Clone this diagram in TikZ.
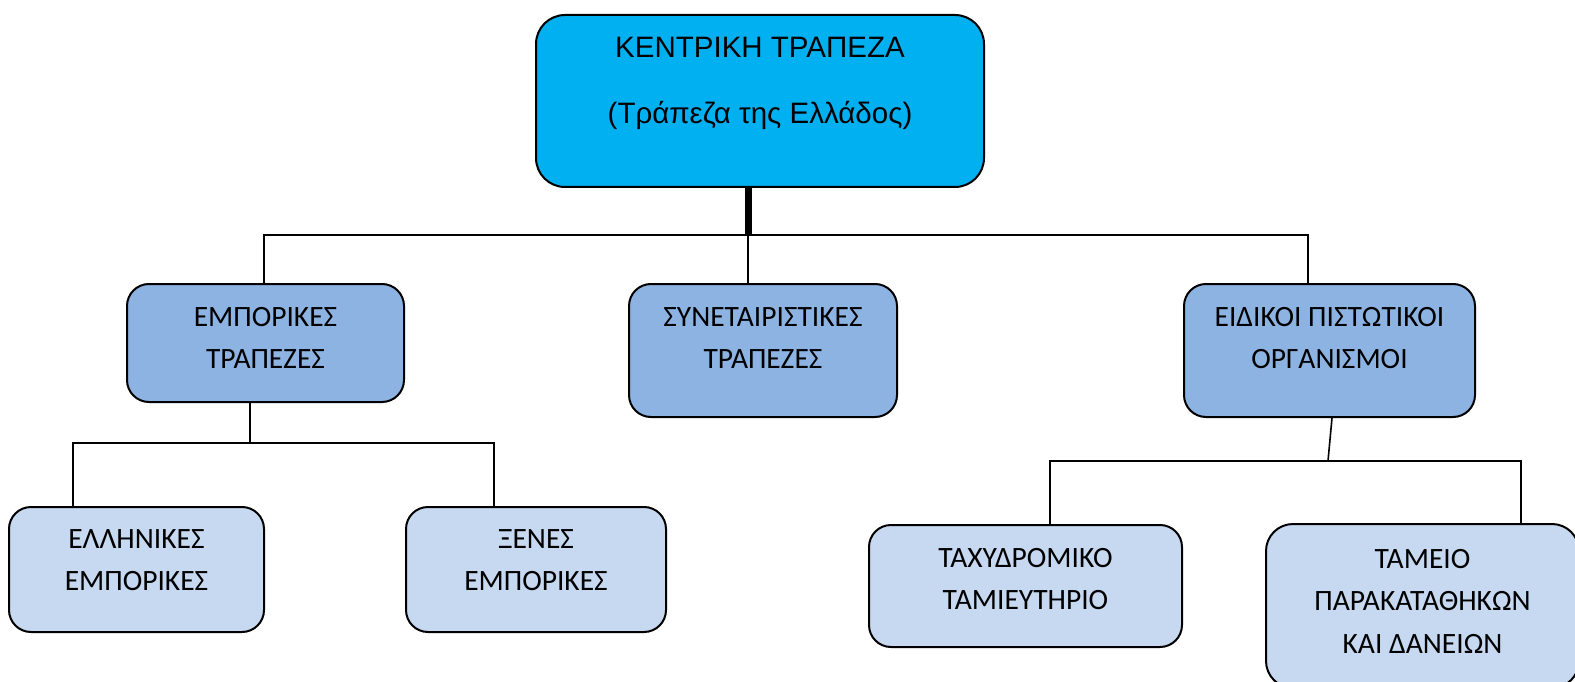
\documentclass[tikz,border=0pt]{standalone}
\usepackage{fontspec}
\setmainfont{Carlito}
\newfontfamily\arialfont{Liberation Sans}
\usetikzlibrary{positioning,calc}
\definecolor{cbblue}{HTML}{00B0F0}
\definecolor{midblue}{HTML}{8DB3E2}
\definecolor{lowblue}{HTML}{C6D9F1}
\tikzset{
  box/.style={draw, line width=2pt, rounded corners=22pt, inner sep=0pt},
  cbbox/.style={box, fill=cbblue, rounded corners=29pt},
  midbox/.style={box, fill=midblue},
  lowbox/.style={box, fill=lowblue},
  boxtext/.style={anchor=north, inner sep=0pt, align=center, font=\fontsize{29.5}{42.5}\selectfont},
  cbtext/.style={boxtext, font=\arialfont\fontsize{29.5}{66}\selectfont},
  link/.style={line width=1.6pt},
  trunk/.style={line width=7pt}
}
\begin{document}
\begin{tikzpicture}[x=1pt,y=-1pt]
\useasboundingbox (0,0) rectangle (1575,682);
% boxes
\node[cbbox, minimum width=448, minimum height=172] (cb) at (760,101) {};
\node[midbox, minimum width=277, minimum height=118] (emp) at (265.5,343) {};
\node[midbox, minimum width=268, minimum height=133] (syn) at (763,350.5) {};
\node[midbox, minimum width=291, minimum height=133] (eid) at (1329.5,350.5) {};
\node[lowbox, minimum width=255, minimum height=125] (ell) at (136.5,569.5) {};
\node[lowbox, minimum width=260, minimum height=125] (xen) at (536,569.5) {};
\node[lowbox, minimum width=313, minimum height=122] (tax) at (1025.5,586) {};
\node[lowbox, minimum width=313, minimum height=164, rounded corners=27pt] (tam) at (1422.5,606) {};
% texts
\node[cbtext, below=23pt of cb.north] (cb-t) {ΚΕΝΤΡΙΚΗ ΤΡΑΠΕΖΑ\\(Τράπεζα της Ελλάδος)};
\node[boxtext, below=24pt of emp.north] (emp-t) {ΕΜΠΟΡΙΚΕΣ\\ΤΡΑΠΕΖΕΣ};
\node[boxtext, below=24pt of syn.north] (syn-t) {ΣΥΝΕΤΑΙΡΙΣΤΙΚΕΣ\\ΤΡΑΠΕΖΕΣ};
\node[boxtext, below=24pt of eid.north] (eid-t) {ΕΙΔΙΚΟΙ ΠΙΣΤΩΤΙΚΟΙ\\ΟΡΓΑΝΙΣΜΟΙ};
\node[boxtext, below=23pt of ell.north] (ell-t) {ΕΛΛΗΝΙΚΕΣ\\ΕΜΠΟΡΙΚΕΣ};
\node[boxtext, below=23pt of xen.north] (xen-t) {ΞΕΝΕΣ\\ΕΜΠΟΡΙΚΕΣ};
\node[boxtext, below=24pt of tax.north] (tax-t) {ΤΑΧΥΔΡΟΜΙΚΟ\\ΤΑΜΙΕΥΤΗΡΙΟ};
\node[boxtext, below=26pt of tam.north] (tam-t) {ΤΑΜΕΙΟ\\ΠΑΡΑΚΑΤΑΘΗΚΩΝ\\ΚΑΙ ΔΑΝΕΙΩΝ};
% connectors
\coordinate (hub) at (748,235);
\coordinate (bl) at (264,235);
\coordinate (br) at (1308,235);
\draw[trunk] (cb.south -| hub) -- (hub);
\draw[link] (emp.north -| bl) |- (br) -- (eid.north -| br);
\draw[link] (hub) -- (syn.north -| hub);
\coordinate (ebus) at (250,443);
\coordinate (el) at (73,443);
\coordinate (er) at (494,443);
\draw[link] (emp.south -| ebus) -- (ebus);
\draw[link] (ell.north -| el) |- (er) -- (xen.north -| er);
\coordinate (ibus) at (1328,461);
\coordinate (il) at (1050,461);
\coordinate (ir) at (1521,461);
\draw[link] ($(eid.south)+(2.5,0)$) -- (ibus);
\draw[link] (tax.north -| il) |- (ir) -- (tam.north -| ir);
\end{tikzpicture}
\end{document}
